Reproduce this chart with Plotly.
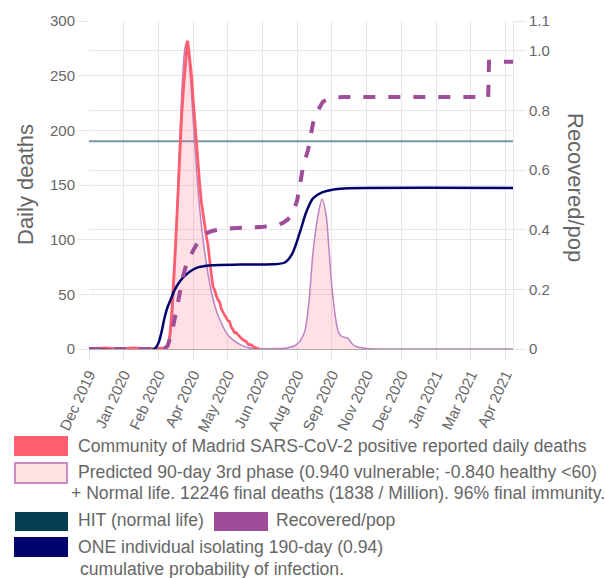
import plotly.graph_objects as go

# ---------------- data ----------------
tick_dates = ["2019-12-01", "2020-01-12", "2020-02-23", "2020-04-05", "2020-05-17",
              "2020-06-28", "2020-08-09", "2020-09-20", "2020-11-01", "2020-12-13",
              "2021-01-24", "2021-03-07", "2021-04-18"]
tick_labels = ["Dec 2019", "Jan 2020", "Feb 2020", "Apr 2020", "May 2020", "Jun 2020",
               "Aug 2020", "Sep 2020", "Nov 2020", "Dec 2020", "Jan 2021", "Mar 2021",
               "Apr 2021"]
x_start = "2019-12-01"
x_end = "2021-04-27"

reported_dates = ["2019-12-01", "2019-12-20", "2020-01-05", "2020-01-25", "2020-02-10",
                  "2020-02-25", "2020-03-03", "2020-03-06", "2020-03-08", "2020-03-10",
                  "2020-03-12", "2020-03-14", "2020-03-16", "2020-03-18", "2020-03-20",
                  "2020-03-22", "2020-03-24", "2020-03-26", "2020-03-28", "2020-03-29",
                  "2020-03-30", "2020-04-01", "2020-04-03", "2020-04-05", "2020-04-07",
                  "2020-04-09", "2020-04-11", "2020-04-13", "2020-04-15", "2020-04-17",
                  "2020-04-19", "2020-04-21", "2020-04-23", "2020-04-25", "2020-04-27",
                  "2020-04-29", "2020-05-01", "2020-05-03", "2020-05-05", "2020-05-07",
                  "2020-05-09", "2020-05-11", "2020-05-13", "2020-05-15", "2020-05-17",
                  "2020-05-19", "2020-05-21", "2020-05-23", "2020-05-25", "2020-05-27",
                  "2020-05-30", "2020-06-02", "2020-06-05", "2020-06-08", "2020-06-11",
                  "2020-06-14", "2020-06-17", "2020-06-20", "2020-06-24"]
reported_deaths = [0, 1, 0, 1, 0,
                   1, 1, 4, 14, 32,
                   55, 85, 115, 150, 188,
                   212, 235, 258, 276, 282,
                   278, 265, 250, 228, 208,
                   186, 165, 150, 134, 122,
                   112, 103, 95, 80, 68,
                   57, 54, 49, 45, 43,
                   37, 34, 31, 29, 26,
                   25, 20, 18, 15, 15,
                   12, 10, 8, 7, 4,
                   4, 2, 1, 0]

predicted_dates = ["2019-12-01", "2020-02-20", "2020-03-01", "2020-03-05", "2020-03-08",
                   "2020-03-11", "2020-03-14", "2020-03-17", "2020-03-20", "2020-03-23",
                   "2020-03-26", "2020-03-28", "2020-03-30", "2020-04-02", "2020-04-05",
                   "2020-04-09", "2020-04-13", "2020-04-17", "2020-04-21", "2020-04-25",
                   "2020-04-29", "2020-05-04", "2020-05-09", "2020-05-15", "2020-05-22",
                   "2020-06-01", "2020-06-12", "2020-06-25", "2020-07-15", "2020-07-27",
                   "2020-08-06", "2020-08-12", "2020-08-18", "2020-08-23", "2020-08-28",
                   "2020-09-03", "2020-09-08", "2020-09-13", "2020-09-16", "2020-09-21",
                   "2020-09-28", "2020-10-03", "2020-10-09", "2020-10-14", "2020-10-20",
                   "2020-11-01", "2020-12-01", "2021-04-27"]
predicted_deaths = [0, 0, 1, 4, 10,
                    30, 75, 135, 195, 245,
                    275, 280, 272, 245, 210,
                    165, 128, 100, 78, 60,
                    46, 33, 24, 15, 9,
                    4, 1, 0.3, 0.5, 1,
                    3, 7, 16, 42, 88,
                    122, 137, 122, 95, 48,
                    15, 11, 10, 5, 2,
                    0.5, 0, 0]

hit_dates = [x_start, x_end]
hit_values = [190, 190]

recovered_dates = ["2019-12-01", "2020-03-01", "2020-03-05", "2020-03-10", "2020-03-15",
                   "2020-03-20", "2020-03-24", "2020-03-28", "2020-04-01", "2020-04-05",
                   "2020-04-09", "2020-04-13", "2020-04-17", "2020-04-21", "2020-04-28",
                   "2020-05-05", "2020-05-23", "2020-06-29", "2020-07-15", "2020-07-22",
                   "2020-07-28", "2020-08-01", "2020-08-05", "2020-08-09", "2020-08-13",
                   "2020-08-16", "2020-08-22", "2020-08-28", "2020-09-01", "2020-09-05",
                   "2020-09-09", "2020-09-14", "2020-09-18", "2020-09-25", "2020-10-05",
                   "2021-03-28", "2021-03-29", "2021-04-27"]
recovered_pop = [0, 0, 0.01, 0.053, 0.12,
                 0.198, 0.245, 0.287, 0.312, 0.33,
                 0.35, 0.365, 0.378, 0.388, 0.396,
                 0.40, 0.405, 0.41, 0.415, 0.422,
                 0.433, 0.445, 0.465, 0.5, 0.56,
                 0.611, 0.667, 0.757, 0.79, 0.812,
                 0.829, 0.836, 0.841, 0.844, 0.845,
                 0.845, 0.963, 0.963]

one_dates = ["2019-12-01", "2020-02-18", "2020-02-23", "2020-02-27", "2020-03-01",
             "2020-03-05", "2020-03-08", "2020-03-14", "2020-03-24", "2020-04-09",
             "2020-04-29", "2020-06-01", "2020-07-10", "2020-07-25", "2020-08-03",
             "2020-08-12", "2020-08-20", "2020-08-28", "2020-09-08", "2020-09-24",
             "2020-10-10", "2021-04-27"]
one_prob = [0, 0, 0.02, 0.06, 0.10,
            0.14, 0.16, 0.20, 0.24, 0.272,
            0.281, 0.283, 0.284, 0.29, 0.32,
            0.39, 0.46, 0.505, 0.525, 0.536,
            0.539, 0.54]

left_ticks = [0, 50, 100, 150, 200, 250, 300]
right_ticks = [0, 0.2, 0.4, 0.6, 0.8, 1.0, 1.1]
right_tick_labels = ["0", "0.2", "0.4", "0.6", "0.8", "1.0", "1.1"]

legend_labels = ["Community of Madrid SARS-CoV-2 positive reported daily deaths",
                 "Predicted 90-day 3rd phase (0.940 vulnerable; -0.840 healthy <60)",
                 "+ Normal life. 12246 final deaths (1838 / Million). 96% final immunity.",
                 "HIT (normal life)",
                 "Recovered/pop",
                 "ONE individual isolating 190-day (0.94)",
                 "cumulative probability of infection."]

# ---------------- styling ----------------
FONT = "Liberation Sans, Arial, sans-serif"
GRID = "#e6e6e6"
TXT = "#666666"
RED = "rgb(255,94,110)"
PINK_FILL = "rgba(255,100,120,0.2)"
PURPLE_LINE = "rgb(190,130,195)"
HIT_LEGEND = "#043f55"
HIT_LINE = "rgba(4,63,85,0.55)"
REC = "rgb(158,77,152)"
NAVY = "#03036e"

W, H = 605, 578
L, R, T, B = 89, 513, 21, 349


def px(x):
    return (x - L) / (R - L)


def py(y):
    return (B - y) / (B - T)


fig = go.Figure()

fig.add_trace(go.Scatter(x=one_dates, y=one_prob, yaxis="y2", mode="lines",
                         line=dict(color=NAVY, width=2.5, shape="spline", smoothing=0.8),
                         hoverinfo="skip", showlegend=False))
fig.add_trace(go.Scatter(x=recovered_dates, y=recovered_pop, yaxis="y2", mode="lines",
                         line=dict(color=REC, width=4, dash="12px,13px"),
                         hoverinfo="skip", showlegend=False))
fig.add_trace(go.Scatter(x=hit_dates, y=hit_values, mode="lines",
                         line=dict(color=HIT_LINE, width=2),
                         hoverinfo="skip", showlegend=False))
fig.add_trace(go.Scatter(x=predicted_dates, y=predicted_deaths, mode="lines",
                         fill="tozeroy", fillcolor=PINK_FILL,
                         line=dict(color=PURPLE_LINE, width=1.5, shape="spline", smoothing=0.8),
                         hoverinfo="skip", showlegend=False))
fig.add_trace(go.Scatter(x=reported_dates, y=reported_deaths, mode="lines",
                         line=dict(color=RED, width=2.8),
                         hoverinfo="skip", showlegend=False))

# ---------------- legend (drawn) ----------------
shapes = []
annotations = []
boxes = [
    (14, 436, 68, 456, RED, RED, 0),
    (15, 463, 67, 483, "rgb(255,224,227)", "rgb(200,140,195)", 2),
    (15, 512, 68, 531, HIT_LEGEND, HIT_LEGEND, 0),
    (214, 512, 268, 531, REC, REC, 0),
    (14, 537, 68, 557, NAVY, NAVY, 0),
]
for x0, y0, x1, y1, fc, lc, lw in boxes:
    shapes.append(dict(type="rect", xref="paper", yref="paper",
                       x0=px(x0), x1=px(x1), y0=py(y1), y1=py(y0),
                       fillcolor=fc, line=dict(color=lc, width=lw), layer="above"))

text_pos = [(76, 446), (76, 472), (69, 493.5), (76, 520), (274, 520), (76, 547), (78, 569)]
for (tx, ty), lab in zip(text_pos, legend_labels):
    annotations.append(dict(xref="paper", yref="paper", x=px(tx), y=py(ty), text=lab,
                            showarrow=False, xanchor="left", yanchor="middle",
                            font=dict(family=FONT, size=17.6, color=TXT)))

annotations.append(dict(xref="paper", yref="paper", x=px(25), y=py(185), text="Daily deaths",
                        textangle=-90, showarrow=False, xanchor="center", yanchor="middle",
                        font=dict(family=FONT, size=22, color=TXT)))
annotations.append(dict(xref="paper", yref="paper", x=px(576), y=py(187), text="Recovered/pop",
                        textangle=90, showarrow=False, xanchor="center", yanchor="middle",
                        font=dict(family=FONT, size=22, color=TXT)))

fig.update_layout(
    width=W, height=H,
    margin=dict(l=L, r=W - R, t=T, b=H - B, pad=0),
    paper_bgcolor="white", plot_bgcolor="white",
    showlegend=False,
    font=dict(family=FONT, color=TXT),
    xaxis=dict(type="date", range=[x_start, x_end], tickvals=tick_dates, ticktext=tick_labels,
               tickangle=-65, tickfont=dict(size=15, color=TXT), showgrid=True,
               gridcolor=GRID, gridwidth=1, ticks="outside", ticklen=10, tickcolor=GRID,
               showline=False, zeroline=False, automargin=False),
    yaxis=dict(range=[0, 300], tickvals=left_ticks, tickfont=dict(size=15, color=TXT),
               showgrid=True, gridcolor=GRID, ticks="outside", ticklen=10, tickcolor=GRID,
               zeroline=True, zerolinecolor="#aaaaaa", zerolinewidth=1,
               showline=False, automargin=False),
    yaxis2=dict(range=[0, 1.1], overlaying="y", side="right", tickvals=right_ticks,
                ticktext=right_tick_labels, tickfont=dict(size=15, color=TXT),
                showgrid=True, gridcolor=GRID, ticks="outside", ticklen=12, tickcolor=GRID,
                zeroline=False, showline=True, linecolor=GRID, automargin=False),
    shapes=shapes,
    annotations=annotations,
)

fig.write_html("out.html", config={"displayModeBar": False},
               post_script="document.body.style.margin='0';document.body.style.overflow='hidden';")
